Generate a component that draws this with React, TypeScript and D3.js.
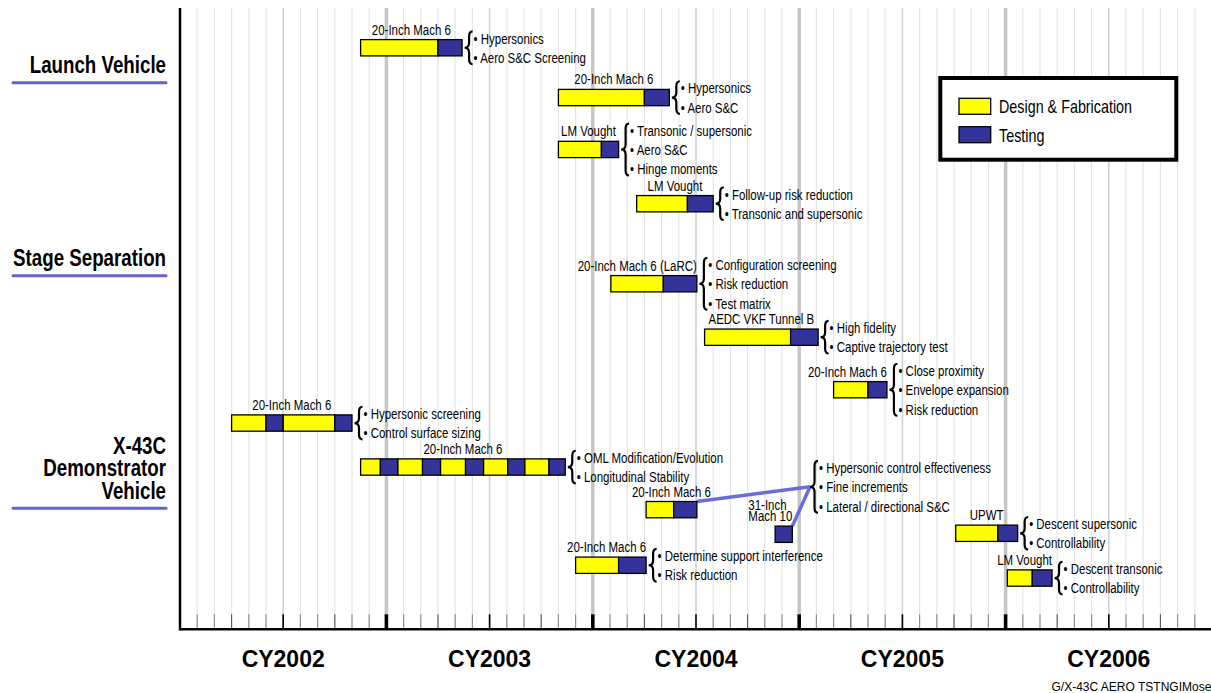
import { useEffect, useRef } from 'react';
import * as d3 from 'd3';

const W = 1211;
const H = 693;

const FONT = "'Liberation Sans', Arial, sans-serif";
// the original uses a condensed Helvetica; squeeze Liberation Sans to match
const SQUEEZE = 0.74;
const SQUEEZE_BOLD = 0.78;

// time is counted in months from January 2002
const yearLabels = ['CY2002', 'CY2003', 'CY2004', 'CY2005', 'CY2006'];

const legendItems: { kind: 'D' | 'T'; label: string }[] = [
  { kind: 'D', label: 'Design & Fabrication' },
  { kind: 'T', label: 'Testing' },
];

// lane = vertical slot, one lane is one line of bullet text
const groupNames = [['Launch Vehicle'], ['Stage Separation'], ['X-43C', 'Demonstrator', 'Vehicle']];
const groupLanes = [3.8, 13.77, 25.77];

type Seg = [number, number, 'D' | 'T'];
interface Task {
  facility: string[];
  lane: number;
  segments: Seg[];
  notes: string[];
  align: 'middle' | 'end';
}

const tasks: Task[] = [
  { facility: ['20-Inch Mach 6'], lane: 2.0, segments: [[10.5, 15, 'D'], [15, 16.4, 'T']], notes: ['Hypersonics', 'Aero S&C Screening'], align: 'middle' },
  { facility: ['20-Inch Mach 6'], lane: 4.57, segments: [[22, 27, 'D'], [27, 28.45, 'T']], notes: ['Hypersonics', 'Aero S&C'], align: 'middle' },
  { facility: ['LM Vought'], lane: 7.25, segments: [[22, 24.5, 'D'], [24.5, 25.5, 'T']], notes: ['Transonic / supersonic', 'Aero S&C', 'Hinge moments'], align: 'middle' },
  { facility: ['LM Vought'], lane: 10.05, segments: [[26.55, 29.5, 'D'], [29.5, 31, 'T']], notes: ['Follow-up risk reduction', 'Transonic and supersonic'], align: 'middle' },
  { facility: ['20-Inch Mach 6 (LaRC)'], lane: 14.18, segments: [[25.05, 28.1, 'D'], [28.1, 30.05, 'T']], notes: ['Configuration screening', 'Risk reduction', 'Test matrix'], align: 'end' },
  { facility: ['AEDC VKF Tunnel B'], lane: 16.94, segments: [[30.5, 35.5, 'D'], [35.5, 37.1, 'T']], notes: ['High fidelity', 'Captive trajectory test'], align: 'middle' },
  { facility: ['20-Inch Mach 6'], lane: 19.65, segments: [[38, 40, 'D'], [40, 41.1, 'T']], notes: ['Close proximity', 'Envelope expansion', 'Risk reduction'], align: 'end' },
  { facility: ['20-Inch Mach 6'], lane: 21.37, segments: [[3, 5, 'D'], [5, 6, 'T'], [6, 9, 'D'], [9, 10, 'T']], notes: ['Hypersonic screening', 'Control surface sizing'], align: 'middle' },
  {
    facility: ['20-Inch Mach 6'], lane: 23.64,
    segments: [[10.5, 11.65, 'D'], [11.65, 12.67, 'T'], [12.67, 14.1, 'D'], [14.1, 15.15, 'T'], [15.15, 16.6, 'D'],
      [16.6, 17.65, 'T'], [17.65, 19.05, 'D'], [19.05, 20.05, 'T'], [20.05, 21.45, 'D'], [21.45, 22.4, 'T']],
    notes: ['OML Modification/Evolution', 'Longitudinal Stability'], align: 'middle',
  },
  { facility: ['20-Inch Mach 6'], lane: 25.84, segments: [[27.1, 28.7, 'D'], [28.7, 30.05, 'T']], notes: [], align: 'middle' },
  { facility: ['31-Inch', 'Mach 10'], lane: 27.11, segments: [[34.6, 35.6, 'T']], notes: [], align: 'end' },
  { facility: ['20-Inch Mach 6'], lane: 28.71, segments: [[23, 25.5, 'D'], [25.5, 27.1, 'T']], notes: ['Determine support interference', 'Risk reduction'], align: 'end' },
  { facility: ['UPWT'], lane: 27.06, segments: [[45.1, 47.55, 'D'], [47.55, 48.7, 'T']], notes: ['Descent supersonic', 'Controllability'], align: 'middle' },
  { facility: ['LM Vought'], lane: 29.37, segments: [[48.1, 49.55, 'D'], [49.55, 50.7, 'T']], notes: ['Descent transonic', 'Controllability'], align: 'end' },
];

// one set of bullets shared by two tests, joined by lines
const sharedNote = {
  lane: 24.66,
  month: 36.63,
  items: ['Hypersonic control effectiveness', 'Fine increments', 'Lateral / directional S&C'],
  linked: [9, 10],
};

const footer = 'G/X-43C AERO TSTNGIMoses';

const colors = { D: '#ffff00', T: '#333399' };

type Sel = d3.Selection<any, unknown, null, undefined>;

// text squeezed horizontally around its anchor point
const narrowText = (parent: Sel, x: number, y: number, str: string, size: number, anchor = 'start', bold = false) =>
  parent.append('text')
    .attr('transform', `translate(${x},${y}) scale(${bold ? SQUEEZE_BOLD : SQUEEZE},1)`)
    .attr('text-anchor', anchor)
    .attr('font-family', FONT)
    .attr('font-size', size)
    .attr('font-weight', bold ? 'bold' : 'normal')
    .text(str);

const App = () => {
  const ref = useRef<SVGSVGElement>(null);

  useEffect(() => {
    if (!ref.current) return;
    const svg = d3.select(ref.current) as unknown as Sel;
    svg.selectAll('*').remove();

    const left = 180;
    const top = 8;
    const base = 629.3;
    const fs = 15.5;

    const x = d3.scaleLinear().domain([0, 60]).range([left, left + 60 * 17.2]);
    const y = d3.scaleLinear().domain([0, 32]).range([9, 629]);
    const barH = 16.3;
    const lineH = 19.3;

    svg.append('rect').attr('width', W).attr('height', H).attr('fill', '#fff');

    // 1) GRID LINES
    const months = d3.range(1, 60);
    svg.append('g').selectAll('line').data(months).join('line')
      .attr('x1', d => x(d)).attr('x2', d => x(d))
      .attr('y1', top).attr('y2', base)
      .attr('stroke', d => (d % 12 === 0 ? '#c6c6c6' : d % 6 === 0 ? '#d2d2d2' : '#e3e3e3'))
      .attr('stroke-width', d => (d % 12 === 0 ? 3.5 : d % 6 === 0 ? 1.6 : 1.1));

    // 2) AXIS
    svg.append('g').selectAll('line').data(months).join('line')
      .attr('x1', d => x(d)).attr('x2', d => x(d))
      .attr('y1', base - 15).attr('y2', base)
      .attr('stroke', d => (d % 6 === 0 ? '#000' : d % 3 === 0 ? '#555' : '#8a8a8a'))
      .attr('stroke-width', d => (d % 12 === 0 ? 3.5 : d % 6 === 0 ? 1.6 : 1.1));

    svg.append('line').attr('x1', left).attr('x2', W).attr('y1', base).attr('y2', base)
      .attr('stroke', '#000').attr('stroke-width', 2.5);
    svg.append('line').attr('x1', left).attr('x2', left).attr('y1', top).attr('y2', base + 1.2)
      .attr('stroke', '#000').attr('stroke-width', 2.5);

    svg.append('g').selectAll('text').data(yearLabels).join('text')
      .attr('x', (_, i) => x(i * 12 + 6))
      .attr('y', 667)
      .attr('text-anchor', 'middle')
      .attr('font-family', FONT)
      .attr('font-weight', 'bold')
      .attr('font-size', 23)
      .text(d => d);

    // 3) GROUP LABELS
    groupNames.forEach((lines, gi) => {
      const uy = y(groupLanes[gi]);
      lines.forEach((t, li) => {
        narrowText(svg, 166, uy - 9.5 - (lines.length - 1 - li) * 22.5, t, 24, 'end', true);
      });
      svg.append('line').attr('x1', 13).attr('x2', 166).attr('y1', uy).attr('y2', uy)
        .attr('stroke', '#6161d0').attr('stroke-width', 3).attr('stroke-linecap', 'round');
    });

    const brace = (tip: number, cy: number, n: number) => {
      const half = n * 9.65 - 3;
      const y0 = cy - half;
      const y1 = cy + half;
      const bx = tip + 4.5;
      const ex = tip + 8;
      svg.append('path')
        .attr('d', `M${ex},${y0} Q${bx},${y0} ${bx},${y0 + 5} L${bx},${cy - 5} Q${bx},${cy} ${tip},${cy} Q${bx},${cy} ${bx},${cy + 5} L${bx},${y1 - 5} Q${bx},${y1} ${ex},${y1}`)
        .attr('fill', 'none').attr('stroke', '#000').attr('stroke-width', 2.2);
    };

    const bullets = (tip: number, cy: number, items: string[]) => {
      brace(tip, cy, items.length);
      items.forEach((t, i) => {
        narrowText(svg, tip + 9, cy + (i - (items.length - 1) / 2) * lineH + 5.5, '\u2022 ' + t, fs);
      });
    };

    // 4) CONNECTOR LINES FOR THE SHARED NOTE
    const tipX = x(sharedNote.month);
    const tipY = y(sharedNote.lane);
    sharedNote.linked.forEach(ti => {
      const t = tasks[ti];
      const endX = x(t.segments[t.segments.length - 1][1]);
      const cy = y(t.lane);
      const sy = Math.max(cy - barH / 2, Math.min(cy + barH / 2, tipY));
      svg.append('line').attr('x1', endX).attr('y1', sy).attr('x2', tipX).attr('y2', tipY)
        .attr('stroke', '#6b6bdc').attr('stroke-width', 3.5);
    });
    bullets(tipX, tipY, sharedNote.items);

    // 5) BARS, LABELS AND NOTES
    tasks.forEach(t => {
      const cy = y(t.lane);
      const x0 = x(t.segments[0][0]);
      const x1 = x(t.segments[t.segments.length - 1][1]);
      t.segments.forEach(s => {
        svg.append('rect')
          .attr('x', x(s[0])).attr('y', cy - barH / 2)
          .attr('width', x(s[1]) - x(s[0])).attr('height', barH)
          .attr('fill', colors[s[2]])
          .attr('stroke', '#000').attr('stroke-width', 1.3);
      });

      const ly = (i: number) => cy - barH / 2 - 5 - (t.facility.length - 1 - i) * 11;
      if (t.align === 'middle') {
        t.facility.forEach((line, i) => narrowText(svg, (x0 + x1) / 2, ly(i), line, fs, 'middle'));
      } else {
        const texts = t.facility.map((line, i) => narrowText(svg, 0, ly(i), line, fs));
        const wMax = (d3.max(texts, tx => (tx.node() as SVGTextElement).getComputedTextLength()) || 0) * SQUEEZE;
        texts.forEach((tx, i) => tx.attr('transform', `translate(${x1 - wMax},${ly(i)}) scale(${SQUEEZE},1)`));
      }

      if (t.notes.length) bullets(x1 + 2.5, cy, t.notes);
    });

    // 6) LEGEND
    const lg = svg.append('g');
    lg.append('rect').attr('x', 940.3).attr('y', 78).attr('width', 236).attr('height', 81.7)
      .attr('fill', '#fff').attr('stroke', '#000').attr('stroke-width', 4);
    legendItems.forEach((d, i) => {
      const ly = 98.3 + i * 28.4;
      lg.append('rect').attr('x', 959).attr('y', ly).attr('width', 31.7).attr('height', 16)
        .attr('fill', colors[d.kind]).attr('stroke', '#000').attr('stroke-width', 1.3);
      lg.append('text')
        .attr('transform', `translate(999,${ly + 15}) scale(0.775,1)`)
        .attr('font-family', FONT).attr('font-size', 18.5)
        .text(d.label);
    });

    svg.append('text').attr('x', 1051.5).attr('y', 691)
      .attr('font-family', FONT).attr('font-size', 12)
      .text(footer);
  }, []);

  return (
    <svg
      ref={ref}
      width={W}
      height={H}
      style={{ position: 'absolute', left: 0, top: 0, display: 'block' }}
    />
  );
};

export default App;
